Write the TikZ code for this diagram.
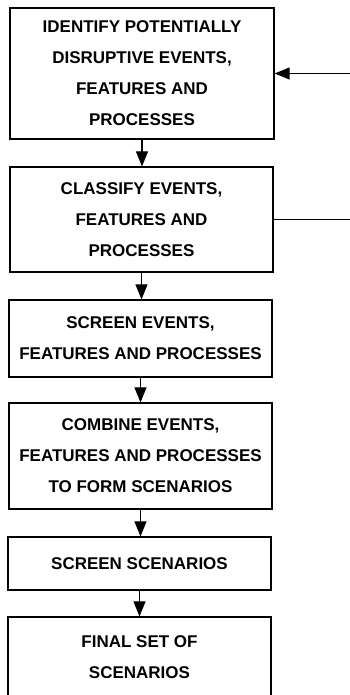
\documentclass[tikz,border=0pt]{standalone}
\usepackage{fontspec}
\setmainfont{Liberation Sans}
\usetikzlibrary{arrows.meta}

\begin{document}
\begin{tikzpicture}[x=1pt,y=-1pt,
    stepbox/.style={draw, line width=1.2pt, rectangle, inner sep=0pt,
      align=center, font=\bfseries\fontsize{17}{31}\selectfont},
    flow/.style={line width=1.1pt, -{Triangle[length=15pt,width=12pt]}},
    plain/.style={line width=1.1pt}]
  \useasboundingbox (0,0) rectangle (350,695);
  \clip (0,0) rectangle (350,695);

  \node[stepbox, minimum width=264pt, minimum height=131pt] (identify) at (142,73.5)
    {IDENTIFY POTENTIALLY\\DISRUPTIVE EVENTS,\\FEATURES AND\\PROCESSES};
  \node[stepbox, minimum width=263pt, minimum height=105pt] (classify) at (141.5,219.5)
    {CLASSIFY EVENTS,\\FEATURES AND\\PROCESSES};
  \node[stepbox, minimum width=263pt, minimum height=77pt] (screen) at (140.5,338.5)
    {SCREEN EVENTS,\\FEATURES AND PROCESSES};
  \node[stepbox, minimum width=263pt, minimum height=106pt] (combine) at (140.5,456)
    {COMBINE EVENTS,\\FEATURES AND PROCESSES\\TO FORM SCENARIOS};
  \node[stepbox, minimum width=263pt, minimum height=53pt] (screensc) at (139.5,563.5)
    {SCREEN SCENARIOS};
  \node[stepbox, minimum width=263pt, minimum height=81pt] (final) at (139.5,657.5)
    {FINAL SET OF\\SCENARIOS};

  % downward flow between steps
  \draw[flow] (identify.south) -- (identify.south |- classify.north);
  \draw[flow] (classify.south) -- (classify.south |- screen.north);
  \draw[flow] (screen.south) -- (screen.south |- combine.north);
  \draw[flow] (combine.south) -- (combine.south |- screensc.north);
  \draw[flow] (screensc.south) -- (screensc.south |- final.north);

  % feedback lines at the right edge
  \coordinate (fbin) at (350,73.5);
  \coordinate (fbout) at (350,219.5);
  \draw[flow] (fbin) -- (identify.east);
  \draw[plain] (classify.east) -- (fbout);
\end{tikzpicture}
\end{document}
